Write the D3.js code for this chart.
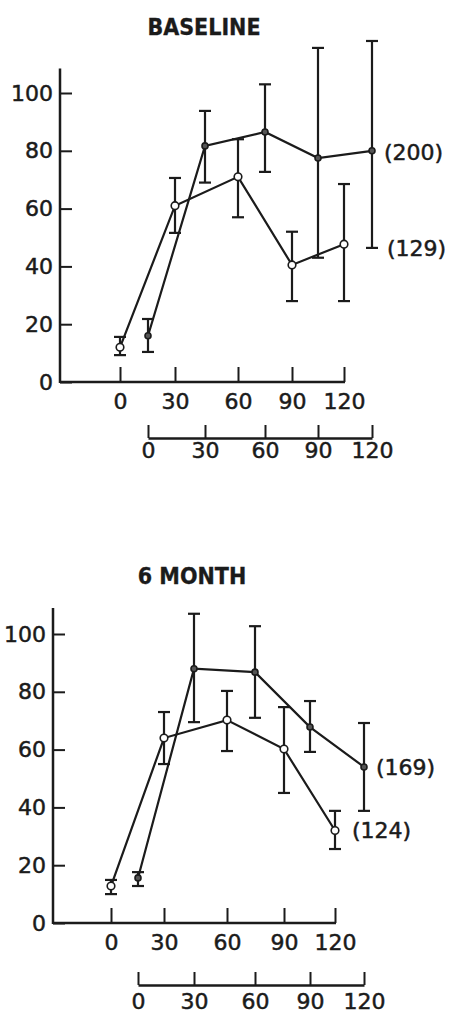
<!DOCTYPE html>
<html lang="en">
<head>
  <meta charset="UTF-8">
  <title>Baseline / 6 month</title>
  <script src="https://cdn.jsdelivr.net/npm/d3@7"></script>
  <style>
    body {
      margin: 0;
      background: #fff;
    }

    #canvas {
      width: 454px;
      height: 1013px;
      display: block;
    }

    text {
      font-family: "DejaVu Sans", sans-serif;
      fill: #1b1b1b;
      stroke: #1b1b1b;
      stroke-width: 0.5px;
    }

    .title {
      font-family: "DejaVu Sans Condensed", "DejaVu Sans", sans-serif;
      font-weight: bold;
      font-size: 23px;
      stroke-width: 0.3px;
    }
  </style>
</head>
<body>
<svg id="canvas" width="454" height="1013"></svg>
<script>
  // minutes after the meal, shared by every series
  const times = [0, 30, 60, 90, 120];
  const yTicks = [0, 20, 40, 60, 80, 100];
  const xTicks = [0, 30, 60, 90, 120];

  // baseline, open circles (129)
  const baseOpen = [12, 61, 71, 40.5, 47.7];
  const baseOpenLo = [9.3, 51.6, 57, 28, 28];
  const baseOpenHi = [15.6, 70.6, 84, 52, 68.5];
  // baseline, dots (200)
  const baseDot = [16, 81.7, 86.5, 77.5, 80];
  const baseDotLo = [10.4, 69, 72.7, 43, 46.4];
  const baseDotHi = [21.8, 93.8, 103, 115.6, 118];

  // 6 month, open circles (124)
  const sixOpen = [12.8, 64, 70.2, 60.2, 32];
  const sixOpenLo = [10, 55, 59.5, 45, 25.6];
  const sixOpenHi = [14.9, 73, 80.3, 74.7, 38.8];
  // 6 month, dots (169)
  const sixDot = [15.6, 88, 86.8, 67.8, 54];
  const sixDotLo = [12.8, 69.5, 71, 59.2, 38.8];
  const sixDotHi = [17.6, 107, 102.7, 76.8, 69.2];

  const ink = "#1b1b1b";
  let svg = d3.select("#canvas");

  // the time axes were drawn by hand, so their ticks are not evenly spaced
  let panels = [
    {
      title: "BASELINE", titleX: 204, titleY: 35,
      axisX: 60, y0: 382, y100: 93, yTop: 108.5,
      x1: [120, 175, 238, 292, 344], x2: [148, 205, 265, 318, 372],
      axis2Y: 438, pad2: 4, lineEnd: 345,
      series: [
        {v: baseOpen, lo: baseOpenLo, hi: baseOpenHi, open: true, label: "(129)", dx: 43, dy: 4},
        {v: baseDot, lo: baseDotLo, hi: baseDotHi, open: false, label: "(200)", dx: 12, dy: 1}
      ]
    },
    {
      title: "6 MONTH", titleX: 192, titleY: 584,
      axisX: 53, y0: 923, y100: 634, yTop: 109,
      x1: [111, 164, 227, 284, 335], x2: [138, 194, 255, 310, 364],
      axis2Y: 985, pad2: 8, lineEnd: 336,
      series: [
        {v: sixOpen, lo: sixOpenLo, hi: sixOpenHi, open: true, label: "(124)", dx: 17, dy: 0},
        {v: sixDot, lo: sixDotLo, hi: sixDotHi, open: false, label: "(169)", dx: 12, dy: 0}
      ]
    }
  ];

  panels.forEach(drawPanel);

  function drawPanel(p) {
    let g = svg.append("g");
    let y = d3.scaleLinear().domain([0, 100]).range([p.y0, p.y100]);
    let xa = d3.scaleLinear().domain(xTicks).range(p.x1);
    let xb = d3.scaleLinear().domain(xTicks).range(p.x2);

    g.append("text")
        .attr("class", "title")
        .attr("x", p.titleX)
        .attr("y", p.titleY)
        .attr("text-anchor", "middle")
        .text(p.title);

    // y axis, ticks pointing inward
    let ya = g.append("g")
        .attr("transform", `translate(${p.axisX},0)`)
        .call(d3.axisLeft(y).tickValues(yTicks).tickSize(-12).tickPadding(7).tickFormat(d3.format("d")));
    ya.select(".domain").remove();
    styleAxis(ya);
    g.append("line")
        .attr("x1", p.axisX).attr("x2", p.axisX)
        .attr("y1", y(p.yTop)).attr("y2", y(0) + 1)
        .attr("stroke", ink).attr("stroke-width", 2.5);

    // first time axis, sits on y = 0
    let xa1 = g.append("g")
        .attr("transform", `translate(0,${y(0)})`)
        .call(d3.axisBottom(xa).tickValues(xTicks).tickSize(-15).tickPadding(11));
    xa1.select(".domain").remove();
    styleAxis(xa1);
    g.append("line")
        .attr("x1", p.axisX).attr("x2", p.lineEnd)
        .attr("y1", y(0)).attr("y2", y(0))
        .attr("stroke", ink).attr("stroke-width", 2.5);

    // second, shifted time axis underneath
    let xa2 = g.append("g")
        .attr("transform", `translate(0,${p.axis2Y})`)
        .call(d3.axisBottom(xb).tickValues(xTicks).tickSize(-13).tickSizeOuter(0).tickPadding(p.pad2));
    xa2.select(".domain").attr("stroke-width", 2.5);
    styleAxis(xa2);

    p.series.forEach(s => {
      let x = s.open ? xa : xb;
      let pts = times.map((t, i) => ({t: t, v: s.v[i], lo: s.lo[i], hi: s.hi[i]}));

      g.append("path")
          .datum(pts)
          .attr("fill", "none")
          .attr("stroke", ink)
          .attr("stroke-width", 2.2)
          .attr("d", d3.line().x(d => x(d.t)).y(d => y(d.v)));

      let bars = g.append("g").selectAll("g").data(pts).join("g")
          .attr("stroke", ink).attr("stroke-width", 2.2);
      bars.append("line")
          .attr("x1", d => x(d.t)).attr("x2", d => x(d.t))
          .attr("y1", d => y(d.hi)).attr("y2", d => y(d.lo));
      bars.append("line")
          .attr("x1", d => x(d.t) - 6).attr("x2", d => x(d.t) + 6)
          .attr("y1", d => y(d.hi)).attr("y2", d => y(d.hi));
      bars.append("line")
          .attr("x1", d => x(d.t) - 6).attr("x2", d => x(d.t) + 6)
          .attr("y1", d => y(d.lo)).attr("y2", d => y(d.lo));

      g.append("g").selectAll("circle").data(pts).join("circle")
          .attr("cx", d => x(d.t))
          .attr("cy", d => y(d.v))
          .attr("r", s.open ? 3.8 : 3)
          .attr("fill", s.open ? "#fff" : "#555")
          .attr("stroke", ink)
          .attr("stroke-width", 1.6);

      let last = pts[pts.length - 1];
      g.append("text")
          .attr("x", x(last.t) + s.dx)
          .attr("y", y(last.v) + s.dy)
          .attr("dy", "0.35em")
          .attr("font-size", 22)
          .text(s.label);
    });
  }

  function styleAxis(a) {
    a.selectAll(".tick line").attr("stroke", ink).attr("stroke-width", 2);
    a.selectAll(".domain").attr("stroke", ink);
    a.selectAll(".tick text")
        .attr("fill", ink)
        .style("font-family", "'DejaVu Sans', sans-serif")
        .style("font-size", "22px");
  }
</script>
</body>
</html>
